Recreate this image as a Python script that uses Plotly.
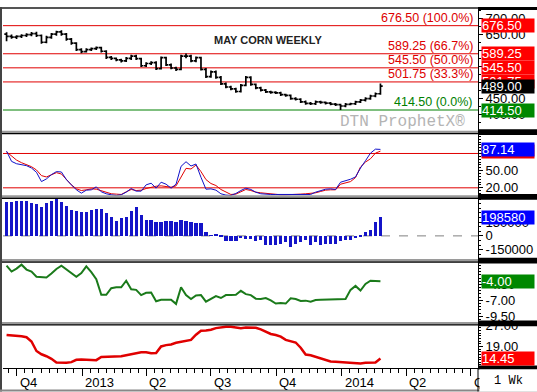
import pandas as pd
import plotly.graph_objects as go

# ---------------- data ----------------
dates = pd.date_range(start="2012-09-17", periods=76, freq="7D")

price_open = [650, 643, 641, 643, 646, 649, 652, 646, 625, 640, 650, 657, 650, 635, 622, 602, 596, 602, 605, 608,
              597, 578, 575, 570, 567, 575, 582, 574, 552, 559, 562, 543, 577, 555, 545, 541, 582, 582, 567, 577,
              541, 518, 533, 516, 496, 486, 480, 472, 491, 516, 494, 483, 476, 471, 469, 468, 462, 460, 450, 448,
              440, 435, 434, 440, 438, 436, 433, 431, 427, 432, 434, 440, 445, 450, 458, 465]
price_high = [656, 649, 647, 650, 653, 657, 658, 649, 645, 654, 661, 662, 654, 638, 625, 606, 606, 609, 612, 611,
              600, 582, 578, 574, 579, 586, 586, 577, 563, 566, 566, 581, 580, 559, 549, 586, 590, 586, 581, 580,
              545, 537, 537, 520, 500, 490, 484, 495, 520, 519, 497, 487, 480, 474, 473, 471, 465, 463, 454, 451,
              444, 439, 444, 443, 441, 439, 436, 434, 436, 437, 443, 449, 454, 462, 469, 497]
price_low = [628, 636, 635, 638, 641, 644, 641, 620, 622, 636, 645, 645, 630, 617, 598, 591, 593, 598, 601, 593,
             573, 570, 566, 562, 564, 570, 570, 548, 548, 554, 539, 540, 551, 541, 536, 538, 575, 563, 563, 537,
             514, 515, 512, 492, 482, 476, 468, 469, 488, 490, 479, 472, 467, 465, 464, 458, 456, 446, 444, 436,
             431, 430, 430, 434, 432, 429, 427, 414.5, 423, 429, 430, 436, 441, 446, 454, 462]
price_close = [643, 641, 643, 646, 649, 652, 646, 625, 640, 650, 657, 650, 635, 622, 602, 596, 602, 605, 608, 597,
               578, 575, 570, 567, 575, 582, 574, 552, 559, 562, 543, 577, 555, 545, 541, 582, 582, 567, 577, 541,
               518, 533, 516, 496, 486, 480, 472, 491, 516, 494, 483, 476, 471, 469, 468, 462, 460, 450, 448, 440,
               435, 434, 440, 438, 436, 433, 431, 427, 432, 434, 440, 445, 450, 458, 465, 489]

fib_levels = [676.50, 589.25, 545.50, 501.75, 414.50]
fib_labels = ["676.50 (100.0%)", "589.25 (66.7%)", "545.50 (50.0%)", "501.75 (33.3%)", "414.50 (0.0%)"]

stoch_k = [84.1, 66.2, 62.1, 60.4, 58.7, 54.6, 47.1, 30.9, 35.6, 43.1, 48.3, 47.7, 34.4, 25.2, 16.5, 10.7, 15.9, 16.5,
           21.7, 13.0, 9.6, 7.8, 6.7, 7.8, 12.4, 18.8, 14.2, 14.2, 25.2, 28.0, 19.4, 29.8, 26.3, 19.4, 26.3, 57.5,
           65.6, 58.1, 61.6, 38.4, 17.6, 18.2, 15.9, 9.6, 7.3, 6.7, 10.1, 15.3, 19.4, 17.1, 12.4, 9.6, 8.4, 8.4,
           8.4, 8.4, 8.4, 9.0, 9.0, 8.4, 8.4, 8.4, 12.4, 14.8, 17.6, 18.2, 17.1, 29.8, 32.1, 35.0, 39.0, 54.6,
           67.3, 80.6, 87.6, 87.14]
stoch_d = [82.9, 74.8, 68.5, 63.9, 60.4, 56.9, 51.2, 41.3, 39.0, 42.5, 46.5, 44.2, 33.8, 25.2, 18.2, 15.3, 16.5, 18.2,
           17.6, 14.8, 12.4, 9.6, 9.0, 8.4, 13.0, 17.1, 15.3, 15.9, 18.8, 21.1, 22.8, 23.4, 22.8, 21.1, 23.4, 37.9,
           54.0, 52.9, 59.8, 48.3, 34.4, 27.5, 24.0, 17.1, 12.4, 8.4, 9.0, 13.0, 17.1, 15.3, 12.4, 11.3, 10.1, 9.0,
           8.4, 7.8, 7.8, 7.8, 7.8, 9.0, 9.6, 10.1, 11.3, 13.6, 15.9, 16.5, 16.5, 26.3, 28.6, 30.9, 37.9, 56.4,
           65.0, 70.8, 80.6, 84.1]
stoch_lines = [80, 20]

hist = [367800, 367800, 375000, 378500, 375000, 353500, 342800, 314200, 357100, 378500, 400000, 371400, 321400,
        278500, 267800, 260700, 260700, 275000, 285700, 292800, 250000, 203500, 164300, 192800, 207100, 271400,
        314200, 225000, 175000, 175000, 153600, 153600, 157100, 164300, 142800, 171400, 160700, 153600, 139300,
        135700, 42900, 2000, 8000, -18000, -57000, -57000, -57000, -28000, -32000, -35000, -57000, -50000,
        -100000, -107000, -100000, -89000, -71000, -125000, -89000, -71000, -43000, -107000, -71000, -100000,
        -89000, -89000, -89000, -64000, -46000, -43000, -29000, -5000, 35700, 64300, 150000, 198580]

green_line = [-1.56, -2.49, -2.03, -1.41, -2.18, -2.49, -3.31, -3.41, -3.41, -2.79, -2.08, -1.56, -2.13, -2.71,
              -3.31, -2.74, -1.67, -2.59, -3.67, -6.13, -6.13, -5.10, -4.95, -4.95, -3.92, -5.26, -5.36, -6.18,
              -5.82, -5.77, -7.15, -6.90, -6.90, -6.90, -7.56, -4.95, -6.18, -6.79, -6.23, -6.18, -7.21, -6.79,
              -6.33, -6.64, -6.18, -6.18, -6.13, -5.51, -6.03, -6.18, -6.74, -6.79, -6.64, -7.00, -7.51, -7.41,
              -7.51, -6.69, -6.79, -7.10, -7.05, -7.21, -6.95, -6.90, -6.90, -6.90, -6.85, -6.79, -6.79, -5.36,
              -4.74, -5.46, -4.44, -3.92, -3.97, -4.00]

red_line = [23.32, 23.20, 23.07, 22.83, 22.46, 20.85, 17.27, 16.04, 15.30, 14.31, 12.95, 12.83, 12.83, 13.07,
            13.94, 14.06, 14.06, 13.81, 13.81, 15.05, 15.05, 15.17, 15.17, 15.30, 15.67, 16.04, 16.65, 16.78,
            16.78, 16.41, 16.53, 19.00, 19.49, 19.74, 20.36, 20.73, 20.98, 21.47, 23.44, 24.93, 25.05, 25.30,
            25.91, 26.28, 26.41, 26.41, 26.16, 25.91, 26.16, 26.16, 26.04, 25.42, 24.43, 23.69, 23.32, 22.70,
            21.47, 21.10, 20.48, 18.51, 15.91, 15.67, 15.05, 14.68, 13.94, 13.32, 13.20, 13.07, 12.83, 12.58,
            12.58, 12.58, 12.83, 12.95, 12.95, 14.45]

quarter_ticks = ["2012-10-01", "2013-01-01", "2013-04-01", "2013-07-01", "2013-10-01", "2014-01-01",
                 "2014-04-01", "2014-07-01"]
quarter_labels = ["Q4", "2013", "Q2", "Q3", "Q4", "2014", "Q2", "Q3"]

# ---------------- layout helpers ----------------
W, H = 537, 392
ML, MR, MT, MB = 3, 59, 2, 24
PW = W - ML - MR
PH = H - MT - MB


def py2paper(py):
    return (H - MB - py) / PH


def px2paper(px):
    return (px - ML) / PW


panels = [(2, 127), (129, 193), (195, 258), (260, 322), (324, 368)]
domains = [[py2paper(b), py2paper(t)] for t, b in panels]
domains[-1][0] = 0.0
domains[0][1] = 1.0

FONT = "Liberation Sans, Arial, sans-serif"
RED = "#dd0000"
GREEN = "#008000"

fig = go.Figure()

fig.add_trace(go.Ohlc(x=dates, open=price_open, high=price_high, low=price_low, close=price_close,
                      increasing=dict(line=dict(color="black", width=1.7)),
                      decreasing=dict(line=dict(color="black", width=1.7)),
                      tickwidth=0.45, xaxis="x", yaxis="y", hoverinfo="skip"))
fig.add_trace(go.Scatter(x=dates, y=stoch_d, mode="lines", line=dict(color="#e00000", width=1),
                         xaxis="x", yaxis="y2"))
fig.add_trace(go.Scatter(x=dates, y=stoch_k, mode="lines", line=dict(color="#1010c8", width=1),
                         xaxis="x", yaxis="y2"))
fig.add_trace(go.Bar(x=dates, y=hist, marker=dict(color="#1414c8", line=dict(width=0)),
                     width=4.6 * 86400000, xaxis="x", yaxis="y3"))
fig.add_trace(go.Scatter(x=dates, y=green_line, mode="lines", line=dict(color="#1a7a1a", width=2),
                         xaxis="x", yaxis="y4"))
fig.add_trace(go.Scatter(x=dates, y=red_line, mode="lines", line=dict(color="#e00000", width=2.5),
                         xaxis="x", yaxis="y5"))

# minor x ticks: 8 divisions per quarter
qts = pd.to_datetime(["2012-07-01"] + quarter_ticks + ["2014-10-01"])
minor_x = []
for a, b in zip(qts[:-1], qts[1:]):
    for i in range(1, 8):
        minor_x.append(a + (b - a) * i / 8)

fig.update_layout(
    width=W, height=H, margin=dict(l=ML, r=MR, t=MT, b=MB),
    paper_bgcolor="white", plot_bgcolor="white", showlegend=False, bargap=0,
    font=dict(family=FONT, size=13, color="black"),
    xaxis=dict(type="date", range=["2012-09-12", "2014-07-11"], anchor="y5",
               tickmode="array", tickvals=quarter_ticks, ticktext=[""] * len(quarter_ticks),
               ticks="outside", ticklen=7, tickcolor="black", tickwidth=1,
               showline=True, linecolor="black", linewidth=1, showgrid=False, zeroline=False,
               rangeslider=dict(visible=False),
               minor=dict(tickmode="array", tickvals=minor_x, ticks="outside", ticklen=4,
                          tickcolor="black", showgrid=False)),
)

yax_common = dict(side="right", anchor="x", showgrid=False, zeroline=False, ticks="outside",
                  ticklen=4, tickcolor="black", showline=True, linecolor="black",
                  tickfont=dict(family=FONT, size=13, color="black"))

# labels hidden under the value boxes are left blank (tick marks stay)
fig.update_layout(
    yaxis=dict(domain=domains[0], range=[347.4, 728.3], tickmode="array",
               tickvals=[400, 450, 500, 550, 600, 650, 700],
               ticktext=["400.00", "450.00", "", "", "", "650.00", "700.00"],
               minor=dict(dtick=25, ticks="outside", ticklen=2, tickcolor="black"), **yax_common),
    yaxis2=dict(domain=domains[1], range=[5.1, 114.8], tickmode="array", tickvals=[20, 50, 80],
                ticktext=["20.00", "50.00", ""],
                minor=dict(dtick=5, ticks="outside", ticklen=2, tickcolor="black"), **yax_common),
    yaxis3=dict(domain=domains[2], range=[-264600, 410300], tickmode="array",
                tickvals=[-150000, 0, 150000], ticktext=["-150000", "0", "150000"],
                minor=dict(dtick=50000, ticks="outside", ticklen=2, tickcolor="black"), **yax_common),
    yaxis4=dict(domain=domains[3], range=[-10.54, -1.0], tickmode="array", tickvals=[-9.5, -7, -4.5],
                ticktext=["-9.50", "-7.00", "-4.50"],
                minor=dict(dtick=0.5, ticks="outside", ticklen=2, tickcolor="black"), **yax_common),
    yaxis5=dict(domain=domains[4], range=[10.85, 27.15], tickmode="array", tickvals=[19, 27],
                ticktext=["19.00", "27.00"],
                minor=dict(dtick=1, ticks="outside", ticklen=2, tickcolor="black"), **yax_common),
)

shapes = []
for lv in fib_levels:
    shapes.append(dict(type="line", xref="x domain", yref="y", x0=0, x1=1, y0=lv, y1=lv,
                       line=dict(color=GREEN if lv == fib_levels[-1] else "#e00000", width=1), layer="below"))
for lv in stoch_lines:
    shapes.append(dict(type="line", xref="x domain", yref="y2", x0=0, x1=1, y0=lv, y1=lv,
                       line=dict(color="#e00000", width=1), layer="below"))
shapes.append(dict(type="line", xref="x domain", yref="y3", x0=0, x1=1, y0=0, y1=0,
                   line=dict(color="#808080", width=1, dash="dash"), layer="below"))

for (t1, b1), (t2, b2) in zip(panels[:-1], panels[1:]):
    shapes.append(dict(type="rect", xref="paper", yref="paper", x0=px2paper(0), x1=1,
                       y0=py2paper(t2), y1=py2paper(b1 - 1), fillcolor="#9a9a9a", line=dict(width=0)))
    shapes.append(dict(type="line", xref="paper", yref="paper", x0=px2paper(0), x1=1,
                       y0=py2paper(t2), y1=py2paper(t2), line=dict(color="black", width=1.2)))
    shapes.append(dict(type="rect", xref="paper", yref="paper", x0=1, x1=px2paper(W),
                       y0=py2paper(t2 + 1.5), y1=py2paper(b1 - 2.5), fillcolor="black", line=dict(width=0)))
shapes.append(dict(type="rect", xref="paper", yref="paper", x0=px2paper(0), x1=1,
                   y0=py2paper(2), y1=py2paper(0), fillcolor="#555555", line=dict(width=0)))
shapes.append(dict(type="rect", xref="paper", yref="paper", x0=1, x1=px2paper(W),
                   y0=py2paper(3), y1=py2paper(0), fillcolor="black", line=dict(width=0)))
shapes.append(dict(type="rect", xref="paper", yref="paper", x0=1, x1=px2paper(W),
                   y0=py2paper(369.5), y1=py2paper(365.5), fillcolor="black", line=dict(width=0)))
shapes.append(dict(type="rect", xref="paper", yref="paper", x0=px2paper(0), x1=px2paper(2),
                   y0=py2paper(392), y1=py2paper(0), fillcolor="#444444", line=dict(width=0)))
shapes.append(dict(type="rect", xref="paper", yref="paper", x0=px2paper(0), x1=px2paper(W),
                   y0=py2paper(392), y1=py2paper(390), fillcolor="#888888", line=dict(width=0)))
shapes.append(dict(type="line", xref="paper", yref="paper", x0=1, x1=1,
                   y0=py2paper(392), y1=py2paper(368), line=dict(color="black", width=1)))
fig.update_layout(shapes=shapes)

ann = []
for lv, lab in zip(fib_levels, fib_labels):
    ann.append(dict(xref="paper", yref="y", x=px2paper(474), y=lv, xanchor="right", yanchor="middle",
                    yshift=8, text=lab, showarrow=False, borderpad=0,
                    font=dict(family=FONT, size=12.5, color=GREEN if lv == fib_levels[-1] else RED)))
ann.append(dict(xref="paper", yref="y", x=px2paper(212), y=631, xanchor="left", yanchor="middle",
                text="<b>MAY CORN WEEKLY</b>", showarrow=False,
                font=dict(family=FONT, size=11, color="#222222")))
ann.append(dict(xref="paper", yref="y", x=px2paper(467), y=378.8, xanchor="right", yanchor="middle",
                text="DTN ProphetX®", showarrow=False,
                font=dict(family="Liberation Mono, Courier New, monospace", size=16, color="#b4b4b4")))


def box(yref, val, text, color):
    return dict(xref="paper", yref=yref, x=1, y=val, xanchor="left", yanchor="middle", xshift=3,
                text=text, showarrow=False, bgcolor=color, width=52, height=13, borderpad=0,
                align="left", font=dict(family=FONT, size=13, color="white"))


ann.append(box("y", 676.50, "676.50", "#ff0000"))
ann.append(box("y", 589.25, "589.25", "#ff0000"))
ann.append(box("y", 545.50, "545.50", "#ff0000"))
ann.append(box("y", 501.75, "501.75", "#ff0000"))
ann.append(box("y", price_close[-1], f"{price_close[-1]:.2f}", "black"))
ann.append(box("y", 414.50, "414.50", "#008800"))
ann.append(box("y2", stoch_d[-1], f"{stoch_d[-1]:.2f}", "#ee0000"))
ann.append(box("y2", stoch_k[-1], f"{stoch_k[-1]:.2f}", "#0000ff"))
ann.append(box("y3", hist[-1], f"{hist[-1]}", "#0000ff"))
ann.append(box("y4", green_line[-1], f"{green_line[-1]:.2f}", "#008800"))
ann.append(box("y5", red_line[-1], f"{red_line[-1]:.2f}", "#ff0000"))

for d, lab in zip(quarter_ticks, quarter_labels):
    ann.append(dict(xref="x", yref="paper", x=d, y=0, xanchor="left", yanchor="top", xshift=2, yshift=-6,
                    text=lab, showarrow=False, borderpad=0, font=dict(family=FONT, size=13, color="black")))
ann.append(dict(xref="paper", yref="paper", x=1, y=0, xanchor="left", yanchor="top", xshift=1, yshift=-1,
                text="1 Wk", showarrow=False, bgcolor="white", width=57, height=21, borderpad=0,
                font=dict(family="Liberation Mono, Courier New, monospace", size=12, color="black")))
fig.update_layout(annotations=ann)

post = ("document.body.style.margin='0';document.body.style.padding='0';"
        "document.body.style.overflow='hidden';"
        "var g=document.querySelector('.plotly-graph-div');"
        "g.style.position='absolute';g.style.top='0px';g.style.left='0px';")
fig.write_html("out.html", config={"displayModeBar": False}, post_script=post)
